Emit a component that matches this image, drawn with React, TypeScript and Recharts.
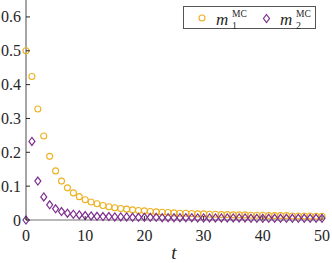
import React from 'react';
import { ScatterChart, Scatter, XAxis, YAxis, Legend, Label } from 'recharts';

// time steps
const tValues = [
  0, 1, 2, 3, 4, 5, 6, 7, 8, 9, 10, 11, 12, 13, 14, 15, 16, 17, 18, 19, 20,
  21, 22, 23, 24, 25, 26, 27, 28, 29, 30, 31, 32, 33, 34, 35, 36, 37, 38, 39, 40,
  41, 42, 43, 44, 45, 46, 47, 48, 49, 50,
];

// m_1^MC (orange circles)
const m1Values = [
  0.5, 0.424, 0.328, 0.248, 0.188, 0.145, 0.115, 0.095, 0.08, 0.069, 0.06,
  0.053, 0.048, 0.043, 0.039, 0.036, 0.034, 0.032, 0.03, 0.028, 0.027,
  0.025, 0.024, 0.023, 0.022, 0.021, 0.02, 0.02, 0.019, 0.018, 0.018,
  0.017, 0.017, 0.016, 0.016, 0.015, 0.015, 0.015, 0.014, 0.014, 0.014,
  0.013, 0.013, 0.013, 0.013, 0.012, 0.012, 0.012, 0.012, 0.011, 0.011,
];

// m_2^MC (purple diamonds)
const m2Values = [
  0, 0.232, 0.115, 0.068, 0.045, 0.033, 0.025, 0.02, 0.017, 0.015, 0.013,
  0.012, 0.011, 0.01, 0.01, 0.009, 0.009, 0.009, 0.008, 0.008, 0.008,
  0.008, 0.008, 0.007, 0.007, 0.007, 0.007, 0.007, 0.007, 0.006, 0.006,
  0.006, 0.006, 0.006, 0.006, 0.006, 0.006, 0.006, 0.005, 0.005, 0.005,
  0.005, 0.005, 0.005, 0.005, 0.005, 0.005, 0.005, 0.005, 0.005, 0.005,
];

const xTicks = [0, 10, 20, 30, 40, 50];
const yTicks = [0, 0.1, 0.2, 0.3, 0.4, 0.5, 0.6];
const seriesSubscripts = ['1', '2'];

const orange = '#EDB120';
const purple = '#7E2F8E';
const ink = '#262626';
const serif = "'Times New Roman', 'Liberation Serif', 'Noto Serif', 'DejaVu Serif', Times, serif";

const m1Data = tValues.map((t, i) => ({ t, v: m1Values[i] }));
const m2Data = tValues.map((t, i) => ({ t, v: m2Values[i] }));

const CircleMarker = (props: any) => (
  <circle cx={props.cx} cy={props.cy} r={3} fill="none" stroke={orange} strokeWidth={1.1} />
);

const diamondPath = (cx: number, cy: number) =>
  `M${cx},${cy - 4}L${cx + 3},${cy}L${cx},${cy + 4}L${cx - 3},${cy}Z`;

const DiamondMarker = (props: any) => (
  <path d={diamondPath(props.cx, props.cy)} fill="none" stroke={purple} strokeWidth={1.2} />
);

const textStyle = { fontFamily: serif, fontSize: 16 };

// ticks drawn inside the axes, matlab style
const YTick = ({ x, y, payload }: any) => (
  <g>
    <line x1={x + 5} x2={x + 9} y1={y} y2={y} stroke={ink} />
    <text x={x} y={y} textAnchor="end" dominantBaseline="central" style={textStyle} fill={ink}>
      {payload.value === 0 ? '0' : payload.value.toFixed(1)}
    </text>
  </g>
);

const XTick = ({ x, y, payload }: any) => (
  <g>
    <line x1={x} x2={x} y1={y - 10} y2={y - 14} stroke={ink} />
    <text x={x} y={y} dy="0.71em" textAnchor="middle" style={textStyle} fill={ink}>
      {payload.value}
    </text>
  </g>
);

const LegendBox = () => (
  <svg width={133} height={23} style={{ display: 'block' }}>
    <rect x={0.5} y={0.5} width={132} height={22} fill="#fff" stroke="#555" />
    <circle cx={19} cy={12} r={3} fill="none" stroke={orange} strokeWidth={1.1} />
    <path d={diamondPath(83.5, 12.5)} fill="none" stroke={purple} strokeWidth={1.2} />
    {seriesSubscripts.map((s, i) => {
      const x0 = i === 0 ? 33 : 97;
      return (
        <text key={s} x={x0} y={18.5} fill={ink} style={{ fontFamily: serif, fontSize: 17 }}>
          <tspan fontStyle="italic">m</tspan>
          <tspan x={x0 + 16} y={11} style={{ fontSize: 9.5 }}>MC</tspan>
          <tspan x={x0 + 16} y={22.5} style={{ fontSize: 10 }}>{s}</tspan>
        </text>
      );
    })}
  </svg>
);

export default function App() {
  return (
    <div style={{ position: 'absolute', left: 0, top: 0, background: '#fff' }}>
      <ScatterChart width={332} height={263} margin={{ top: 0, right: 10, bottom: 0, left: 0 }}>
        <XAxis
          type="number"
          dataKey="t"
          domain={[0, 50]}
          ticks={xTicks}
          tick={<XTick />}
          tickSize={0}
          tickMargin={10}
          height={43}
          axisLine={{ stroke: '#a0a0a0', strokeWidth: 1.5 }}
        >
          <Label
            value="t"
            position="insideBottom"
            offset={4}
            fill={ink}
            style={{ fontStyle: 'italic', fontFamily: serif, fontSize: 19 }}
          />
        </XAxis>
        <YAxis
          type="number"
          dataKey="v"
          domain={[0, 0.65]}
          ticks={yTicks}
          tick={<YTick />}
          tickSize={0}
          tickMargin={5}
          width={26}
          axisLine={{ stroke: '#4d4d4d' }}
        />
        <Legend
          layout="horizontal"
          verticalAlign="middle"
          content={<LegendBox />}
          wrapperStyle={{ top: 6, left: 183, width: 133, height: 23 }}
        />
        <Scatter name="m1" data={m1Data} shape={<CircleMarker />} isAnimationActive={false} />
        <Scatter name="m2" data={m2Data} shape={<DiamondMarker />} isAnimationActive={false} />
      </ScatterChart>
    </div>
  );
}
